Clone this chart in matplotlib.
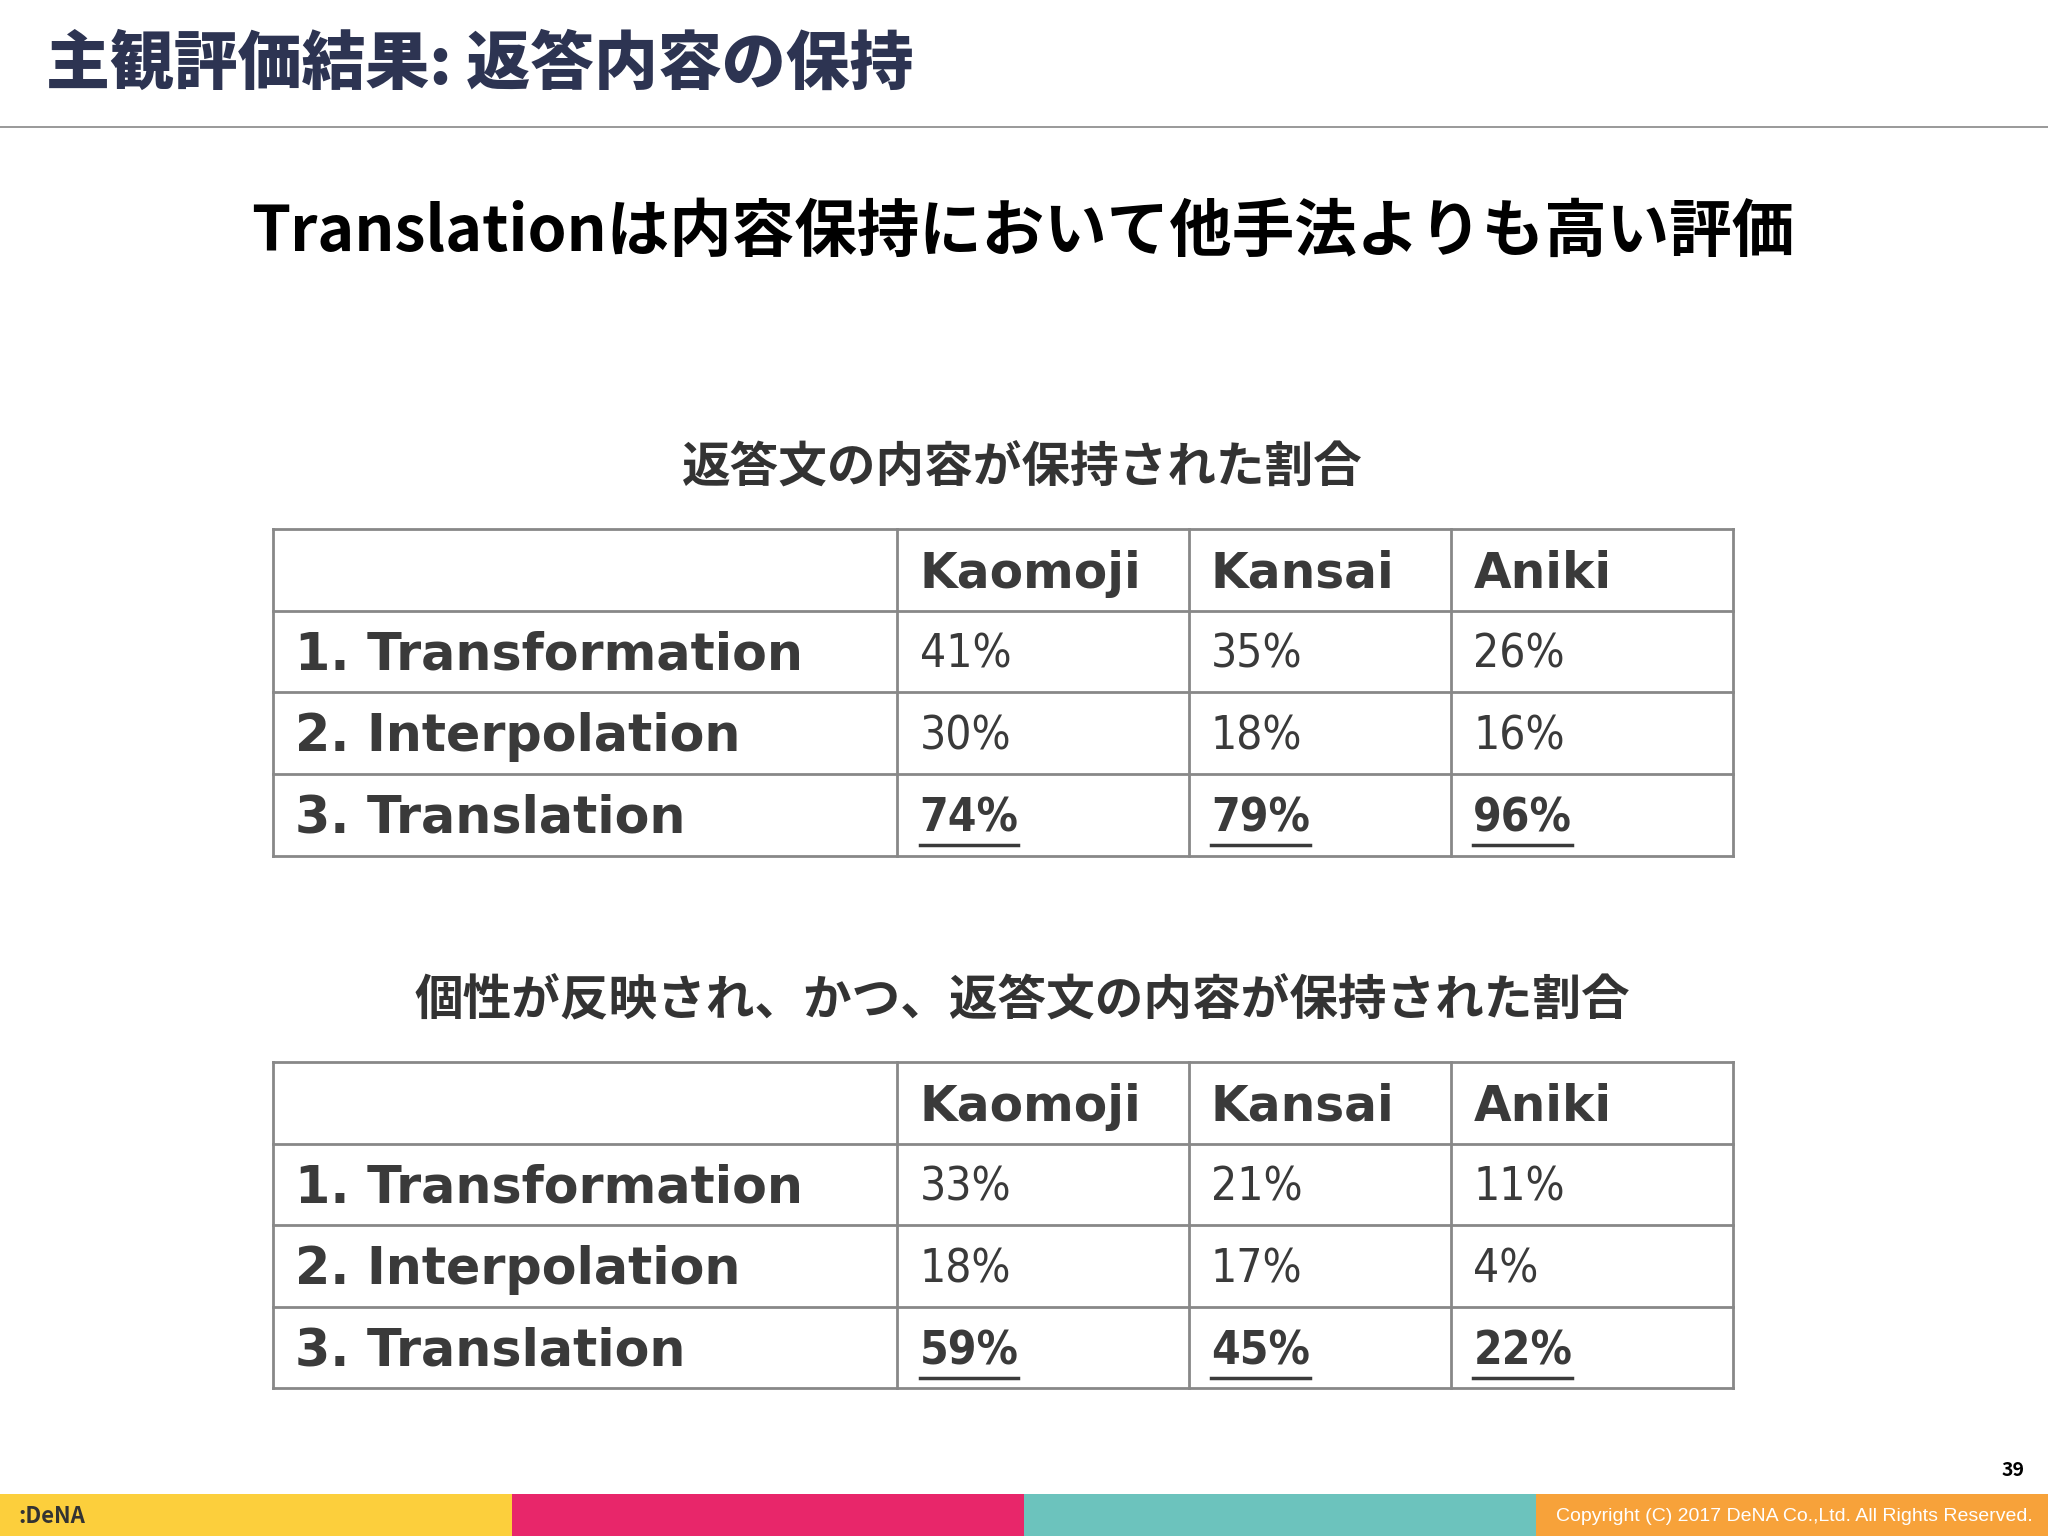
import matplotlib
matplotlib.use("Agg")
import matplotlib.pyplot as plt

plt.rcParams['font.family'] = ['Noto Sans CJK JP', 'DejaVu Sans']

# data
columns = ["Kaomoji", "Kansai", "Aniki"]
methods = ["1. Transformation", "2. Interpolation", "3. Translation"]
kept = [[41, 35, 26], [30, 18, 16], [74, 79, 96]]
kept_and_persona = [[33, 21, 11], [18, 17, 4], [59, 45, 22]]
headings = ["返答文の内容が保持された割合", "個性が反映され、かつ、返答文の内容が保持された割合"]

W, H = 1568, 1176
fig = plt.figure(figsize=(20.48, 15.36), dpi=100)
ax = fig.add_axes([0, 0, 1, 1])
ax.set_xlim(0, W)
ax.set_ylim(H, 0)
ax.axis("off")

ax.text(35, 50, "主観評価結果: 返答内容の保持", fontsize=46, fontweight="black",
        color="#2d3452", va="center")
ax.plot([0, W], [97, 97], color="#888888", lw=1.2)
ax.text(783, 178, "Translationは内容保持において他手法よりも高い評価", fontsize=45,
        fontweight="bold", color="black", ha="center", va="center")

xs = [209, 687, 910, 1111, 1327]
fig.canvas.draw()
rend = fig.canvas.get_renderer()
inv = ax.transData.inverted()


def table(top, head, vals):
    ax.text(783, top - 47, head, fontsize=35, fontweight="bold", color="#333333",
            ha="center", va="center")
    rh = 62.5
    ys = [top + i * rh for i in range(5)]
    for y in ys:
        ax.plot([xs[0], xs[-1]], [y, y], color="#888888", lw=2)
    for x in xs:
        ax.plot([x, x], [ys[0], ys[-1]], color="#888888", lw=2)
    for j, c in enumerate(columns):
        ax.text(xs[j + 1] + 17, ys[0] + rh / 2 + 3, c, fontsize=35, fontweight="bold",
                color="#3a3a3a", va="center", family="DejaVu Sans")
    for i, m in enumerate(methods):
        yc = ys[i + 1] + rh / 2 + 3
        ax.text(xs[0] + 17, yc, m, fontsize=36.5, fontweight="bold", color="#3a3a3a",
                va="center", family="DejaVu Sans")
        for j, v in enumerate(vals[i]):
            t = ax.text(xs[j + 1] + 17, yc, "%d%%" % v, fontsize=33, color="#3a3a3a",
                        va="center", family="DejaVu Sans", fontstretch="condensed",
                        fontweight="bold" if i == 2 else "normal")
            if i == 2:
                bb = t.get_window_extent(rend)
                (x0, _), (x1, _) = inv.transform([(bb.x0, 0), (bb.x1, 0)])
                ax.plot([x0, x1], [yc + 20, yc + 20], color="#3a3a3a", lw=2.5)


table(405, headings[0], kept)
table(813, headings[1], kept_and_persona)

# footer
for i, c in enumerate(["#fccf3c", "#e8266a", "#6cc3bd", "#f7a23a"]):
    ax.add_patch(plt.Rectangle((i * 392, 1144), 392, 32, color=c, lw=0))
ax.text(14, 1161, ":DeNA", fontsize=16, fontweight="bold", color="#333333", va="center")
ax.text(1556, 1161, "Copyright (C) 2017 DeNA Co.,Ltd. All Rights Reserved.", fontsize=14,
        color="white", ha="right", va="center", family="Liberation Sans")
ax.text(1550, 1126, "39", fontsize=14, fontweight="bold", color="black", ha="right",
        va="center")

fig.savefig("out.png", dpi=100, facecolor="white")
